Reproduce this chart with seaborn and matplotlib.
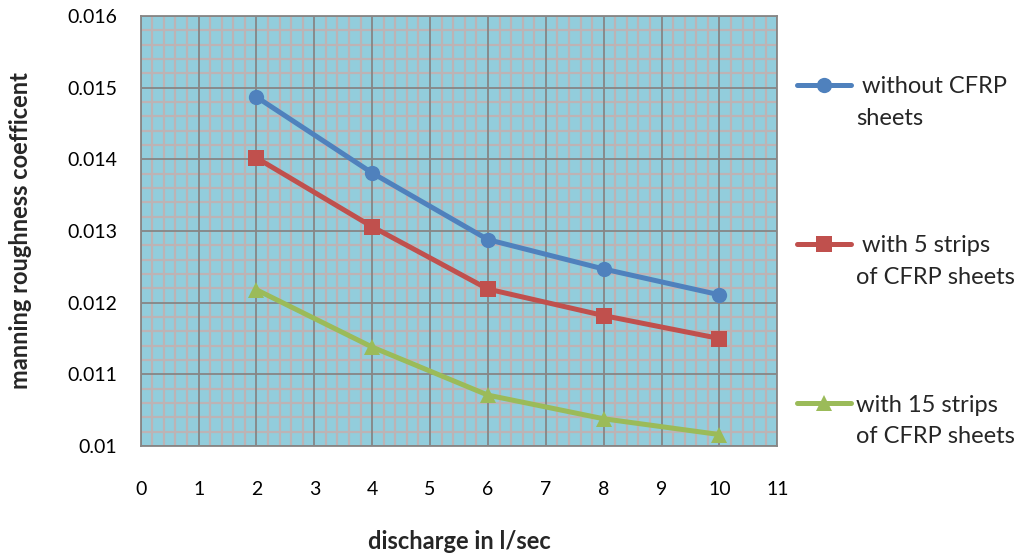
import pandas as pd
import seaborn as sns
import matplotlib.pyplot as plt
from matplotlib.lines import Line2D
from matplotlib.ticker import MultipleLocator

# values
discharge = [2, 4, 6, 8, 10]
without_cfrp = [0.01487, 0.01381, 0.01288, 0.01247, 0.01211]
strips_5 = [0.01402, 0.01306, 0.01219, 0.01182, 0.01150]
strips_15 = [0.01218, 0.01138, 0.01071, 0.01038, 0.01016]

series_names = ['without CFRP', 'with 5 strips', 'with 15 strips']
colors = ['#4F81BD', '#C0504D', '#9BBB59']
markers = ['o', 's', '^']
x_ticks = list(range(0, 12))
y_ticks = [0.010, 0.011, 0.012, 0.013, 0.014, 0.015, 0.016]
y_tick_labels = ['0.01', '0.011', '0.012', '0.013', '0.014', '0.015', '0.016']

df = pd.DataFrame({
    'discharge': discharge * 3,
    'n': without_cfrp + strips_5 + strips_15,
    'series': [s for s in series_names for _ in discharge],
})

sns.set_style('white')
plt.rcParams['font.family'] = ['Lato', 'DejaVu Sans']

fig = plt.figure(figsize=(10.2, 5.58), dpi=100)
ax = fig.add_axes([0.138, 0.2007, 0.624, 0.7706])
ax.set_facecolor('#92CDDC')

sns.lineplot(data=df, x='discharge', y='n', hue='series', style='series',
             palette=colors, markers=markers, dashes=False, linewidth=3.6,
             markersize=11, markeredgewidth=0, legend=False, ax=ax, zorder=5)

ax.set_xlim(0, 11)
ax.set_ylim(0.01, 0.016)
ax.set_xticks(x_ticks)
ax.xaxis.set_minor_locator(MultipleLocator(0.2))
ax.set_yticks(y_ticks)
ax.set_yticklabels(y_tick_labels)
ax.yaxis.set_minor_locator(MultipleLocator(0.0002))

# minor grid behind, major grid drawn on top of it
ax.grid(which='minor', color='#BDB3B5', linewidth=1.6)
ax.set_axisbelow(True)
for xv in x_ticks:
    ax.axvline(xv, color='#868686', linewidth=1.3, zorder=1)
for yv in y_ticks:
    ax.axhline(yv, color='#868686', linewidth=1.3, zorder=1)
for sp in ax.spines.values():
    sp.set_color('#868686')
    sp.set_linewidth(1.3)

ax.tick_params(axis='both', which='major', direction='out', length=5, width=1.2,
               color='#868686', labelsize=14, labelcolor='black')
ax.tick_params(axis='x', pad=20)
ax.tick_params(axis='y', pad=12)
ax.tick_params(which='minor', length=0)

ax.set_xlabel('discharge in l/sec', fontsize=17, fontweight='bold')
ax.set_ylabel('manning roughness coefficent', fontsize=17, fontweight='bold')
ax.xaxis.set_label_coords(0.5, -0.195)
ax.yaxis.set_label_coords(-0.171, 0.5)

# legend: handle sits on the first line of each two-line label
blank = Line2D([], [], linestyle='none')
handles, labels = [], []
first_lines = [' without CFRP', ' with 5 strips', 'with 15 strips']
second_lines = ['sheets', 'of CFRP sheets', 'of CFRP sheets']
for i in range(3):
    h = Line2D([], [], color=colors[i], marker=markers[i], linewidth=3.6,
               markersize=11, markeredgewidth=0)
    handles += [h, blank]
    labels += [first_lines[i], second_lines[i]]
    if i < 2:
        handles += [blank] * 3
        labels += [' '] * 3
fig.legend(handles, labels, loc='upper left', bbox_to_anchor=(797 / 1020, 1 - 76 / 558),
           frameon=False, fontsize=17, handlelength=2.3, handletextpad=0.2,
           labelspacing=0.46, borderpad=0, borderaxespad=0)

fig.savefig('out.png', dpi=100)
